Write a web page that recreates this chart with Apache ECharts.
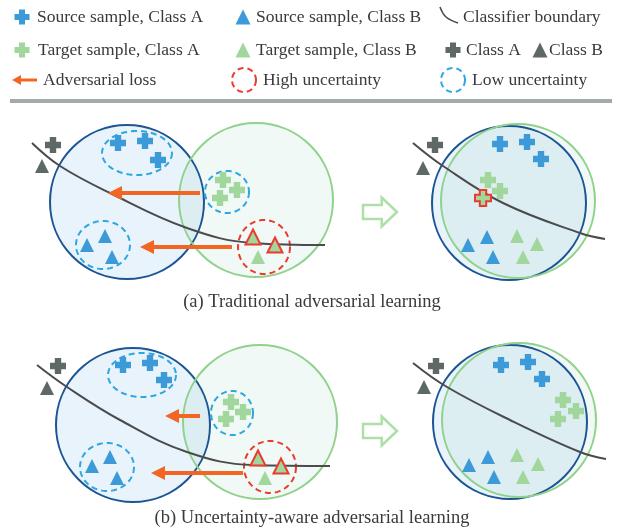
<!DOCTYPE html>
<html>
<head>
<meta charset="utf-8">
<script src="https://cdn.jsdelivr.net/npm/echarts@6/dist/echarts.min.js"></script>
<style>
html,body{margin:0;padding:0;background:#fff;}
#chart{width:619px;height:531px;}
</style>
</head>
<body>
<div id="chart"></div>
<script>
// ---- Sample positions for each panel (diagram space, x right / y down) ----

// (a) left: source and target domains before alignment
const aSourceA = [[118,143],[145,141],[158,160]];
const aSourceB = [[87,245],[105,236],[112,257]];
const aTargetA = [[223,180],[237,190],[220,198]];
const aTargetBUncertain = [[253,237],[275,245]];
const aTargetB = [[258,257]];
const aRefA = [[53,145]];
const aRefB = [[42,166]];
const aBoundary = [[32,143],[60,166],[110,193],[187,228],[253,243],[325,245]];
const aDomains = [[127,202,77],[256,200,77]];
const aLowUnc = [[137,153,35,22],[103,245,27,24],[227,192,22,21]];
const aHighUnc = [[264,247,26,27]];
const aLoss = [[200,193,108,193],[232,247,140,247]];

// (a) right: after traditional alignment
const a2SourceA = [[500,144],[527,142],[541,159]];
const a2SourceB = [[468,245],[487,237],[493,257]];
const a2TargetA = [[488,180],[500,191]];
const a2TargetAWrong = [[483,198]];
const a2TargetB = [[517,236],[537,244],[523,257]];
const a2RefA = [[435,145]];
const a2RefB = [[423,168]];
const a2Boundary = [[413,143],[443,166],[503,203],[580,233],[605,239]];
const a2Domains = [[509,203,77],[518,201,77]];

// (b) left: uncertainty-aware weighting of the adversarial loss
const bSourceA = [[123,365],[150,363],[164,380]];
const bSourceB = [[92,466],[110,457],[117,478]];
const bTargetA = [[231,402],[243,412],[226,419]];
const bTargetBUncertain = [[258,458],[281,466]];
const bTargetB = [[265,478]];
const bRefA = [[58,366]];
const bRefB = [[47,388]];
const bBoundary = [[37,365],[67,387],[120,420],[187,452],[253,465],[330,466]];
const bDomains = [[133,425,77],[260,422,77]];
const bLowUnc = [[142,375,34,22],[107,467,27,24],[232,413,21,22]];
const bHighUnc = [[270,467,26,26]];
const bLoss = [[200,416,165,416],[243,473,151,473]];

// (b) right: after uncertainty-aware alignment
const b2SourceA = [[501,365],[528,362],[542,379]];
const b2SourceB = [[469,465],[488,457],[494,477]];
const b2TargetA = [[563,400],[576,411],[558,419]];
const b2TargetB = [[517,455],[538,464],[523,477]];
const b2RefA = [[436,366]];
const b2RefB = [[424,387]];
const b2Boundary = [[413,363],[447,387],[510,420],[580,452],[606,459]];
const b2Domains = [[510,422,77],[519,420,77]];

// transition arrows between the two states
const stepArrows = [[363,212,397],[363,431,397]];

// legend key glyph positions
const keySourceA = [[22,17]];
const keySourceB = [[243,17]];
const keyTargetA = [[22,50]];
const keyTargetB = [[243,50]];
const keyRefA = [[453,50]];
const keyRefB = [[540,50]];
const keyBoundary = [[440,7],[446,17],[458,23]];
const keyLoss = [[37,80,12,80]];
const keyHigh = [[244,80,12,12]];
const keyLow = [[453,80,12,12]];

// ---- Styles ----
const BLUE_MARK = '#3d9ad8';
const GREEN_MARK = '#a1d79d';
const GRAY_MARK = '#5e6866';
const ORANGE = '#f26522';
const RED = '#ec3a2e';
const DASH_BLUE = '#2ea7e0';
const NAVY = '#1c5594';
const GREEN_RING = '#90d18b';
const TEXT = '#3a3a3a';
const SERIF = '"Liberation Serif", "Times New Roman", serif';

const CROSS = 'path://M0.9,0H2.1V0.9H3V2.1H2.1V3H0.9V2.1H0V0.9H0.9Z';

function marks(data, symbol, color, size, border) {
  const style = { color: color, opacity: 1 };
  if (border) { style.borderColor = border; style.borderWidth = 2; }
  return {
    type: 'scatter', data: data, symbol: symbol, symbolSize: size,
    itemStyle: style, silent: true, z: 10
  };
}
function crosses(data, color, size) { return marks(data, CROSS, color, size || 16); }
function triangles(data, color, size) { return marks(data, 'triangle', color, size || 14); }

function boundary(data, w) {
  return {
    type: 'line', data: data, smooth: 0.4, symbol: 'none', silent: true, z: 6,
    lineStyle: { color: '#4b4b4b', width: w || 2 }
  };
}

// domain circles: first fills, then outlines
function domainFills(data) {
  return {
    type: 'custom', data: data, silent: true, z: 1,
    renderItem: function (params, api) {
      const c = api.coord([api.value(0), api.value(1)]);
      const r = api.size([api.value(2), 0])[0];
      const isTarget = params.dataIndex === 1;
      return {
        type: 'circle', shape: { cx: c[0], cy: c[1], r: r },
        style: { fill: isTarget ? 'rgba(120,200,165,0.1)' : '#e8f3fb' }
      };
    }
  };
}
function domainRings(data) {
  return {
    type: 'custom', data: data, silent: true, z: 2,
    renderItem: function (params, api) {
      const c = api.coord([api.value(0), api.value(1)]);
      const r = api.size([api.value(2), 0])[0];
      const isTarget = params.dataIndex === 1;
      return {
        type: 'circle', shape: { cx: c[0], cy: c[1], r: r },
        style: { fill: 'none', stroke: isTarget ? GREEN_RING : NAVY, lineWidth: 2 }
      };
    }
  };
}

function dashedRings(data, color) {
  return {
    type: 'custom', data: data, silent: true, z: 4,
    renderItem: function (params, api) {
      const cx = api.value(0), cy = api.value(1), rx = api.value(2), ry = api.value(3);
      const pts = [];
      for (let i = 0; i < 72; i++) {
        const t = i / 72 * Math.PI * 2;
        pts.push(api.coord([cx + rx * Math.cos(t), cy + ry * Math.sin(t)]));
      }
      return {
        type: 'polygon', shape: { points: pts },
        style: { fill: 'none', stroke: color, lineWidth: 2, lineDash: [6, 4] }
      };
    }
  };
}

function lossArrows(data, headLen, headHalf, lw) {
  return {
    type: 'custom', data: data, silent: true, z: 8,
    renderItem: function (params, api) {
      const p1 = api.coord([api.value(0), api.value(1)]);
      const p2 = api.coord([api.value(2), api.value(3)]);
      const dx = p2[0] - p1[0], dy = p2[1] - p1[1];
      const len = Math.sqrt(dx * dx + dy * dy);
      const ux = dx / len, uy = dy / len;
      const bx = p2[0] - ux * headLen, by = p2[1] - uy * headLen;
      return {
        type: 'group', children: [
          { type: 'line', shape: { x1: p1[0], y1: p1[1], x2: bx + ux, y2: by + uy },
            style: { stroke: ORANGE, lineWidth: lw } },
          { type: 'polygon', shape: { points: [
              [p2[0], p2[1]], [bx - uy * headHalf, by + ux * headHalf], [bx + uy * headHalf, by - ux * headHalf]] },
            style: { fill: ORANGE } }
        ]
      };
    }
  };
}

function hollowArrows(data) {
  return {
    type: 'custom', data: data, silent: true, z: 5,
    renderItem: function (params, api) {
      const t = api.coord([api.value(0), api.value(1)]);
      const h = api.coord([api.value(2), api.value(1)]);
      const mid = t[0] + (h[0] - t[0]) * 0.55;
      const y = t[1];
      return {
        type: 'polygon', shape: { points: [
          [t[0], y - 7], [mid, y - 7], [mid, y - 14.5], [h[0], y],
          [mid, y + 14.5], [mid, y + 7], [t[0], y + 7]] },
        style: { fill: '#fff', stroke: '#ace0a7', lineWidth: 2.5, lineJoin: 'miter' }
      };
    }
  };
}

function label(text, x, y, size, align) {
  return {
    type: 'text', x: x, y: y, silent: true,
    style: { text: text, font: (size || 17.5) + 'px ' + SERIF, fill: TEXT,
             textAlign: align || 'left', textVerticalAlign: 'middle' }
  };
}

const series = [
  // panel (a) left
  domainFills(aDomains), domainRings(aDomains),
  dashedRings(aLowUnc, DASH_BLUE), dashedRings(aHighUnc, RED),
  boundary(aBoundary),
  lossArrows(aLoss, 14, 7, 4),
  crosses(aSourceA, BLUE_MARK), triangles(aSourceB, BLUE_MARK),
  crosses(aTargetA, GREEN_MARK), triangles(aTargetB, GREEN_MARK),
  marks(aTargetBUncertain, 'triangle', GREEN_MARK, 15, RED),
  crosses(aRefA, GRAY_MARK), triangles(aRefB, GRAY_MARK),

  // panel (a) right
  domainFills(a2Domains), domainRings(a2Domains),
  boundary(a2Boundary),
  crosses(a2SourceA, BLUE_MARK), triangles(a2SourceB, BLUE_MARK),
  crosses(a2TargetA, GREEN_MARK), triangles(a2TargetB, GREEN_MARK),
  marks(a2TargetAWrong, CROSS, GREEN_MARK, 16, RED),
  crosses(a2RefA, GRAY_MARK), triangles(a2RefB, GRAY_MARK),

  // panel (b) left
  domainFills(bDomains), domainRings(bDomains),
  dashedRings(bLowUnc, DASH_BLUE), dashedRings(bHighUnc, RED),
  boundary(bBoundary),
  lossArrows(bLoss, 14, 7, 4),
  crosses(bSourceA, BLUE_MARK), triangles(bSourceB, BLUE_MARK),
  crosses(bTargetA, GREEN_MARK), triangles(bTargetB, GREEN_MARK),
  marks(bTargetBUncertain, 'triangle', GREEN_MARK, 15, RED),
  crosses(bRefA, GRAY_MARK), triangles(bRefB, GRAY_MARK),

  // panel (b) right
  domainFills(b2Domains), domainRings(b2Domains),
  boundary(b2Boundary),
  crosses(b2SourceA, BLUE_MARK), triangles(b2SourceB, BLUE_MARK),
  crosses(b2TargetA, GREEN_MARK), triangles(b2TargetB, GREEN_MARK),
  crosses(b2RefA, GRAY_MARK), triangles(b2RefB, GRAY_MARK),

  hollowArrows(stepArrows),

  // key
  crosses(keySourceA, BLUE_MARK, 15), triangles(keySourceB, BLUE_MARK, 15),
  crosses(keyTargetA, GREEN_MARK, 15), triangles(keyTargetB, GREEN_MARK, 15),
  crosses(keyRefA, GRAY_MARK, 15), triangles(keyRefB, GRAY_MARK, 15),
  boundary(keyBoundary, 1.6),
  lossArrows(keyLoss, 9, 5, 3),
  dashedRings(keyHigh, RED), dashedRings(keyLow, DASH_BLUE)
];

const chart = echarts.init(document.getElementById('chart'), null, { renderer: 'canvas' });
chart.setOption({
  backgroundColor: '#ffffff',
  animation: false,
  grid: { left: 0, right: 0, top: 0, bottom: 0 },
  xAxis: { type: 'value', min: 0, max: 619, show: false },
  yAxis: { type: 'value', min: 0, max: 531, inverse: true, show: false },
  series: series,
  graphic: [
    { type: 'line', silent: true, shape: { x1: 10, y1: 101, x2: 612, y2: 101 },
      style: { stroke: '#a3aaa7', lineWidth: 4 } },
    label('Source sample, Class A', 37, 17),
    label('Source sample, Class B', 256, 17),
    label('Classifier boundary', 463, 17),
    label('Target sample, Class A', 38, 50),
    label('Target sample, Class B', 256, 50),
    label('Class A', 466, 50),
    label('Class B', 549, 50),
    label('Adversarial loss', 43, 80),
    label('High uncertainty', 263, 80),
    label('Low uncertainty', 472, 80),
    label('(a) Traditional adversarial learning', 312, 302, 18.5, 'center'),
    label('(b) Uncertainty-aware adversarial learning', 312, 518, 18.5, 'center')
  ]
});
</script>
</body>
</html>
